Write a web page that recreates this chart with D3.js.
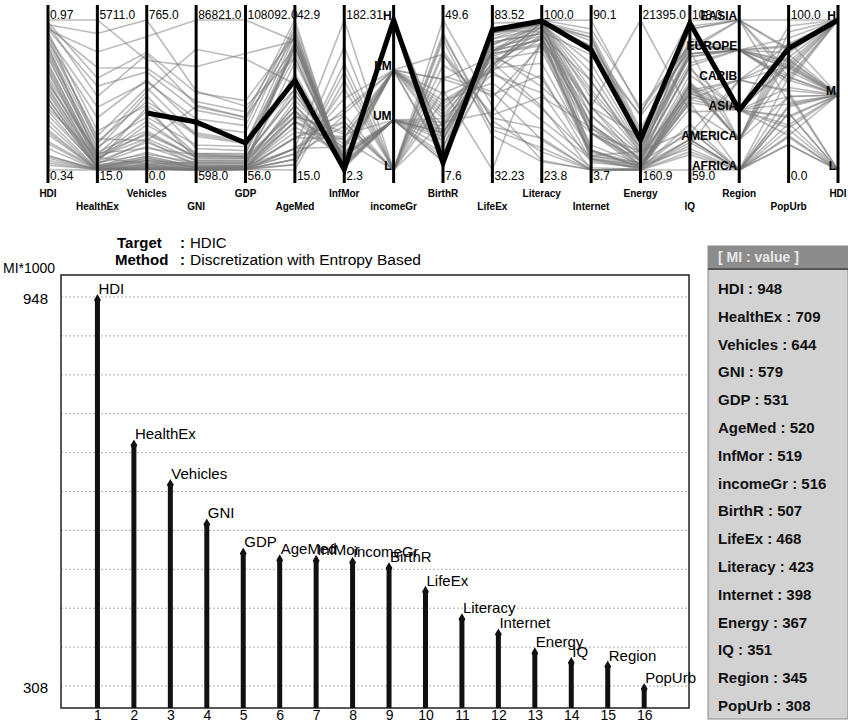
<!DOCTYPE html>
<html lang="en">
<head>
  <meta charset="UTF-8">
  <title>MI ranking</title>
</head>
<style>
    body {
      margin: 0;
      background: #fff;
    }
    text {
      font-family: Arial, "Liberation Sans", Helvetica, sans-serif;
    }
    .pcLine {
      fill: none;
      stroke: #777;
      stroke-opacity: 0.5;
      stroke-width: 1.6px;
    }
    .grid {
      stroke: #9a9a9a;
      stroke-width: 0.8px;
      stroke-dasharray: 2,2;
    }
</style>
<body>

<div id="chart"></div>

<script src="https://d3js.org/d3.v7.min.js"></script>

<script>
/* global d3 */

// ---- parallel coordinates (top) ----
var axisNames = ["HDI", "HealthEx", "Vehicles", "GNI", "GDP", "AgeMed", "InfMor", "incomeGr", "BirthR",
  "LifeEx", "Literacy", "Internet", "Energy", "IQ", "Region", "PopUrb", "HDI"];
var axisMin = [0.34, 15, 0, 598, 56, 15, 2.3, null, 7.6, 32.23, 23.8, 3.7, 160.9, 59, null, 0, null];
var axisMax = [0.97, 5711, 765, 86821, 108092, 42.9, 182.31, null, 49.6, 83.52, 100, 90.1, 21395, 108, null, 100, null];
var minLabels = ["0.34", "15.0", "0.0", "598.0", "56.0", "15.0", "2.3", "", "7.6", "32.23", "23.8", "3.7", "160.9", "59.0", "", "0.0", ""];
var maxLabels = ["0.97", "5711.0", "765.0", "86821.0", "108092.0", "42.9", "182.31", "", "49.6", "83.52", "100.0", "90.1", "21395.0", "108.0", "", "100.0", ""];
var incomeGroups = ["H", "LM", "UM", "L"];
var regions = ["EASIA", "EUROPE", "CARIB", "ASIA", "AMERICA", "AFRICA"];
var hdiClasses = ["H", "M", "L"];

// one row per country, in axis order
var countries = [
  [0.97, 5711, 560, 60000, 84000, 39, 3, "H", 12, 80, 100, 85, 9000, 100, "EUROPE", 78, "H"],
  [0.96, 3500, 600, 45000, 50000, 40, 4, "H", 11, 81, 99, 82, 6000, 99, "EUROPE", 88, "H"],
  [0.95, 2800, 590, 38000, 38000, 42.9, 2.6, "H", 8, 82.5, 99, 75, 4000, 105, "EASIA", 66, "H"],
  [0.95, 5200, 765, 46000, 46000, 36, 6.3, "H", 14, 78, 99, 75, 7800, 98, "AMERICA", 81, "H"],
  [0.94, 3900, 520, 40000, 42000, 41, 3.5, "H", 10, 80, 99, 80, 5500, 100, "EUROPE", 83, "H"],
  [0.93, 4500, 680, 86821, 108092, 39, 2.5, "H", 11, 79, 100, 90, 8500, 100, "EUROPE", 82, "H"],
  [0.93, 3200, 500, 35000, 36000, 40, 3.8, "H", 10, 80, 99, 78, 5200, 100, "EUROPE", 72, "H"],
  [0.92, 1500, 330, 21000, 20000, 37, 4, "H", 9, 79, 98, 80, 4600, 106, "EASIA", 81, "H"],
  [0.91, 1000, 400, 70000, 80000, 31, 8, "H", 16, 76, 93, 40, 21395, 78, "ASIA", 96, "H"],
  [0.90, 2400, 450, 30000, 32000, 42, 4, "H", 9, 80, 98, 65, 3600, 97, "EUROPE", 68, "H"],
  [0.89, 1200, 150, 37000, 38000, 38, 2.3, "H", 9, 80, 94, 70, 8000, 108, "EASIA", 100, "H"],
  [0.88, 2000, 460, 26000, 27000, 41, 4.5, "H", 9, 79, 98, 60, 3200, 102, "EUROPE", 60, "H"],
  [0.87, 1300, 420, 20000, 19000, 40, 5, "H", 10, 77, 99, 55, 3000, 96, "EUROPE", 58, "H"],
  [0.85, 1100, 350, 22000, 21000, 30, 10, "H", 16, 73, 96, 40, 2500, 84, "CARIB", 84, "H"],
  [0.84, 800, 380, 13000, 14000, 39, 7, "UM", 10, 75, 99, 45, 4200, 96, "EUROPE", 62, "H"],
  [0.83, 900, 270, 15000, 17000, 36, 6, "H", 12, 77, 96, 48, 2600, 99, "EASIA", 80, "H"],
  [0.82, 600, 300, 10000, 11000, 38, 8, "UM", 11, 73, 99, 50, 3400, 94, "EUROPE", 70, "H"],
  [0.81, 700, 200, 8000, 9000, 30, 13, "UM", 17, 75, 97, 30, 1800, 93, "AMERICA", 92, "H"],
  [0.79, 450, 190, 7500, 8500, 33, 12, "UM", 14, 72, 98, 35, 2200, 93, "EUROPE", 60, "M"],
  [0.78, 500, 250, 9000, 9500, 26, 17, "UM", 19, 76, 93, 25, 1600, 88, "AMERICA", 77, "M"],
  [0.77, 400, 230, 10000, 12000, 38, 10, "UM", 12, 68, 99, 40, 4800, 97, "EUROPE", 73, "M"],
  [0.76, 300, 320, 7000, 8000, 26, 9, "UM", 20, 74, 92, 55, 2600, 92, "ASIA", 71, "M"],
  [0.75, 350, 140, 6000, 6500, 27, 18, "UM", 18, 71, 91, 28, 1900, 86, "AMERICA", 74, "M"],
  [0.73, 600, 180, 8500, 10000, 29, 19, "UM", 16, 73, 90, 40, 1300, 87, "AMERICA", 86, "M"],
  [0.72, 250, 120, 4500, 5000, 27, 22, "UM", 18, 72, 87, 25, 1400, 71, "CARIB", 53, "M"],
  [0.70, 650, 110, 9500, 10000, 29, 21, "UM", 18, 73, 90, 35, 1400, 90, "ASIA", 70, "M"],
  [0.69, 200, 50, 4000, 4400, 35, 16, "LM", 12, 73, 94, 30, 1700, 105, "EASIA", 45, "M"],
  [0.71, 250, 150, 3000, 3000, 39, 11, "LM", 11, 68, 99, 25, 2800, 97, "EUROPE", 68, "M"],
  [0.68, 300, 80, 5000, 5200, 25, 25, "UM", 22, 72, 88, 30, 900, 82, "CARIB", 69, "M"],
  [0.67, 160, 90, 3500, 3800, 24, 30, "LM", 23, 70, 84, 18, 1000, 83, "ASIA", 55, "M"],
  [0.64, 150, 45, 2500, 2700, 24, 19, "LM", 24, 72, 66, 25, 900, 81, "AFRICA", 43, "M"],
  [0.62, 90, 70, 2500, 3000, 28, 27, "LM", 18, 69, 92, 10, 850, 87, "ASIA", 44, "M"],
  [0.64, 100, 30, 2000, 2100, 23, 20, "LM", 25, 68, 95, 25, 450, 86, "ASIA", 49, "M"],
  [0.66, 120, 60, 1800, 2000, 21, 40, "LM", 27, 66, 91, 15, 550, 87, "AMERICA", 66, "M"],
  [0.59, 110, 40, 2200, 2400, 22, 42, "LM", 26, 67, 78, 14, 700, 85, "ASIA", 35, "M"],
  [0.55, 60, 15, 1300, 1400, 25, 48, "LM", 22, 65, 63, 8, 550, 81, "ASIA", 30, "M"],
  [0.53, 45, 25, 1100, 1200, 19, 75, "LM", 33, 58, 72, 9, 420, 74, "AFRICA", 42, "M"],
  [0.45, 40, 8, 650, 700, 21, 60, "L", 27, 62, 49, 10, 230, 67, "CARIB", 52, "L"],
  [0.51, 35, 20, 800, 800, 18, 55, "L", 37, 57, 87, 10, 480, 72, "AFRICA", 23, "M"],
  [0.50, 25, 3, 700, 650, 24, 38, "L", 21, 69, 56, 4, 200, 82, "ASIA", 28, "M"],
  [0.46, 60, 30, 1200, 1400, 18, 88, "LM", 40, 51, 61, 28, 720, 69, "AFRICA", 50, "L"],
  [0.43, 28, 10, 750, 550, 17, 100, "L", 41, 50, 45, 5, 260, 68, "AFRICA", 31, "L"],
  [0.40, 15, 2, 598, 350, 17, 68, "L", 34, 59, 39, 3.7, 400, 69, "AFRICA", 17, "L"],
  [0.34, 20, 6, 700, 400, 15, 110, "L", 49.6, 54, 28.7, 3.7, 160.9, 69, "AFRICA", 17, "L"],
  [0.36, 50, 5, 820, 500, 19, 182.31, "L", 40, 47, 40, 3.7, 170, 64, "AFRICA", 38, "L"],
  [0.37, 22, 4, 620, 300, 16, 120, "L", 46, 46, 35, 4, 190, 65, "AFRICA", 22, "L"],
  [0.39, 30, 8, 1000, 900, 16, 130, "L", 45, 49, 33, 3.7, 165, 59, "AFRICA", 27, "L"],
  [0.40, 45, 20, 900, 600, 17, 150, "L", 44, 44, 28, 4, 170, 84, "ASIA", 23, "L"],
  [0.38, 40, 50, 650, 600, 19, 60, "L", 30, 32.23, 90, 12, 750, 66, "AFRICA", 38, "L"],
  [0.60, 500, 160, 6000, 7000, 25, 45, "UM", 21, 52, 89, 12, 2800, 72, "AFRICA", 62, "M"],
  [0.57, 180, 70, 2700, 2800, 19, 30, "LM", 33, 71, 70, 15, 620, 79, "AMERICA", 49, "M"],
  [0.86, 500, 30, 5000, 6000, 38, 5, "UM", 10, 79, 100, 15, 950, 85, "CARIB", 75, "H"],
  [0.49, 25, 12, 1000, 1000, 21, 70, "LM", 29, 66, 55, 11, 480, 84, "ASIA", 36, "M"],
  [0.62, 90, 60, 1800, 1900, 26, 33, "LM", 20, 67, 97, 12, 1200, 98, "EASIA", 62, "M"]
];

// the selected record (first two values not drawn in the picture)
var selected = [null, null, 291, 28190, 19500, 31.7, 3, "H", 9.6, 80.1, 99.5, 72.8, 4400, 107, "ASIA", 81, "H"];

// ---- MI ranking (bottom) ----
var miNames = ["HDI", "HealthEx", "Vehicles", "GNI", "GDP", "AgeMed", "InfMor", "incomeGr",
  "BirthR", "LifeEx", "Literacy", "Internet", "Energy", "IQ", "Region", "PopUrb"];
var miValues = [948, 709, 644, 579, 531, 520, 519, 516, 507, 468, 423, 398, 367, 351, 345, 308];

var width = 848;
var height = 722;

var svg = d3.select("#chart")
    .append("svg")
    .attr("width", width)
    .attr("height", height);

// ========== parallel coordinates ==========
var pcTop = 20, pcBottom = 170;
var xPc = d3.scalePoint().domain(d3.range(axisNames.length)).range([48, 838]);

var yPc = axisNames.map(function(name, i) {
  if (i === 7) return d3.scalePoint().domain(incomeGroups).range([pcTop, pcBottom]);
  if (i === 14) return d3.scalePoint().domain(regions).range([pcTop, pcBottom]);
  if (i === 16) return d3.scalePoint().domain(hdiClasses).range([pcTop, pcBottom]);
  return d3.scaleLinear().domain([axisMin[i], axisMax[i]]).range([pcBottom, pcTop]);
});

var pcLine = d3.line()
    .defined(function(d) { return d != null; })
    .x(function(d, i) { return xPc(i); })
    .y(function(d, i) { return yPc[i](d); });

var pc = svg.append("g").attr("class", "pc");

pc.selectAll(".pcLine")
    .data(countries)
    .enter()
    .append("path")
    .attr("class", "pcLine")
    .attr("d", pcLine);

pc.selectAll(".pcAxis")
    .data(axisNames)
    .enter()
    .append("line")
    .attr("class", "pcAxis")
    .attr("x1", function(d, i) { return xPc(i); })
    .attr("x2", function(d, i) { return xPc(i); })
    .attr("y1", 5)
    .attr("y2", 183)
    .style("stroke", "#000")
    .style("stroke-width", 3);

pc.append("path")
    .datum(selected)
    .attr("d", pcLine)
    .style("fill", "none")
    .style("stroke", "#000")
    .style("stroke-width", 5)
    .style("stroke-linejoin", "miter");

// max / min value labels
pc.selectAll(".maxLabel")
    .data(maxLabels)
    .enter()
    .append("text")
    .attr("x", function(d, i) { return xPc(i) + 2; })
    .attr("y", 19)
    .style("font-size", "12px")
    .text(function(d) { return d; });

pc.selectAll(".minLabel")
    .data(minLabels)
    .enter()
    .append("text")
    .attr("x", function(d, i) { return xPc(i) + 2; })
    .attr("y", 180)
    .style("font-size", "12px")
    .text(function(d) { return d; });

// category labels on the nominal axes
[[7, incomeGroups], [14, regions], [16, hdiClasses]].forEach(function(a) {
  var idx = a[0];
  pc.selectAll(".cat" + idx)
      .data(a[1])
      .enter()
      .append("text")
      .attr("x", xPc(idx) - 2)
      .attr("y", function(d) { return yPc[idx](d); })
      .attr("text-anchor", "end")
      .style("font-size", "12px")
      .style("font-weight", "bold")
      .text(function(d) { return d; });
});

// axis names, alternating rows
pc.selectAll(".axisName")
    .data(axisNames)
    .enter()
    .append("text")
    .attr("x", function(d, i) { return xPc(i); })
    .attr("y", function(d, i) { return i % 2 === 0 ? 197 : 210; })
    .attr("text-anchor", "middle")
    .style("font-size", "10px")
    .style("font-weight", "bold")
    .text(function(d) { return d; });

// ========== MI bar chart ==========
var box = { left: 61, right: 689, top: 275, bottom: 708 };

var x = d3.scaleLinear().domain([0, 17.23]).range([box.left, box.right]);
var y = d3.scaleLinear().domain([308, 948]).range([686, 297]);

var mi = svg.append("g").attr("class", "mi");

mi.append("text")
    .attr("x", 117).attr("y", 248)
    .style("font-size", "15px")
    .style("font-weight", "bold")
    .text("Target");
mi.append("text")
    .attr("x", 180).attr("y", 248)
    .style("font-size", "15px")
    .style("font-weight", "bold")
    .text(":");
mi.append("text")
    .attr("x", 190).attr("y", 248)
    .style("font-size", "15px")
    .text("HDIC");
mi.append("text")
    .attr("x", 115).attr("y", 265)
    .style("font-size", "15px")
    .style("font-weight", "bold")
    .text("Method");
mi.append("text")
    .attr("x", 180).attr("y", 265)
    .style("font-size", "15px")
    .style("font-weight", "bold")
    .text(":");
mi.append("text")
    .attr("x", 190).attr("y", 265)
    .style("font-size", "15.5px")
    .text("Discretization with Entropy Based");

mi.append("text")
    .attr("x", 3).attr("y", 273)
    .style("font-size", "14px")
    .text("MI*1000");

mi.selectAll(".grid")
    .data(d3.range(308, 949, 64))
    .enter()
    .append("line")
    .attr("class", "grid")
    .attr("x1", box.left)
    .attr("x2", box.right)
    .attr("y1", function(d) { return y(d); })
    .attr("y2", function(d) { return y(d); });

mi.append("rect")
    .attr("x", box.left)
    .attr("y", box.top)
    .attr("width", box.right - box.left)
    .attr("height", box.bottom - box.top)
    .style("fill", "none")
    .style("stroke", "#222")
    .style("stroke-width", 1.5);

var yAxis = d3.axisLeft(y).tickValues([308, 948]).tickSize(0).tickPadding(13);
mi.append("g")
    .attr("transform", "translate(" + box.left + ",0)")
    .call(yAxis)
    .call(function(g) { g.select(".domain").remove(); })
    .selectAll("text")
    .style("font-size", "15px")
    .style("font-family", "Arial, 'Liberation Sans', sans-serif")
    .attr("dy", "0.4em");

var xAxis = d3.axisBottom(x).tickValues(d3.range(1, 17)).tickSize(0).tickPadding(2);
mi.append("g")
    .attr("transform", "translate(0," + box.bottom + ")")
    .call(xAxis)
    .call(function(g) { g.select(".domain").remove(); })
    .selectAll("text")
    .style("font-size", "14px")
    .style("font-family", "Arial, 'Liberation Sans', sans-serif");

var bars = mi.selectAll(".bar")
    .data(miValues)
    .enter()
    .append("g")
    .attr("class", "bar");

bars.append("line")
    .attr("x1", function(d, i) { return x(i + 1); })
    .attr("x2", function(d, i) { return x(i + 1); })
    .attr("y1", box.bottom)
    .attr("y2", function(d) { return y(d) + 2; })
    .style("stroke", "#111")
    .style("stroke-width", 5);

bars.append("path")
    .attr("d", d3.symbol().type(d3.symbolDiamond).size(40))
    .attr("transform", function(d, i) { return "translate(" + x(i + 1) + "," + (y(d) + 3) + ")"; })
    .style("fill", "#111");

bars.append("text")
    .attr("x", function(d, i) { return x(i + 1) + 1; })
    .attr("y", function(d) { return y(d) - 3; })
    .style("font-size", "15px")
    .text(function(d, i) { return miNames[i]; });

// ========== MI value list ==========
var panel = { left: 708, top: 246, head: 268, bottom: 719, rowTop: 289, rowStep: 27.8 };

svg.append("rect")
    .attr("x", panel.left).attr("y", panel.top)
    .attr("width", width - panel.left).attr("height", panel.bottom - panel.top)
    .style("fill", "#d2d2d2")
    .style("stroke", "#8a8a8a")
    .style("stroke-width", 1);

svg.append("rect")
    .attr("x", panel.left).attr("y", panel.top)
    .attr("width", width - panel.left).attr("height", panel.head - panel.top)
    .style("fill", "#8c8c8c");

svg.append("line")
    .attr("x1", panel.left).attr("x2", width)
    .attr("y1", panel.head + 1).attr("y2", panel.head + 1)
    .style("stroke", "#555")
    .style("stroke-width", 2);

svg.append("text")
    .attr("x", panel.left + 10).attr("y", panel.head - 6)
    .style("font-size", "14px")
    .style("font-weight", "bold")
    .style("fill", "#e8e8e8")
    .text("[ MI : value ]");

svg.selectAll(".miRow")
    .data(miValues)
    .enter()
    .append("text")
    .attr("class", "miRow")
    .attr("x", panel.left + 10)
    .attr("y", function(d, i) { return panel.rowTop + i * panel.rowStep + 5; })
    .style("font-size", "15px")
    .style("font-weight", "bold")
    .style("fill", "#111")
    .text(function(d, i) { return miNames[i] + " : " + d; });

</script>

</body>
</html>
